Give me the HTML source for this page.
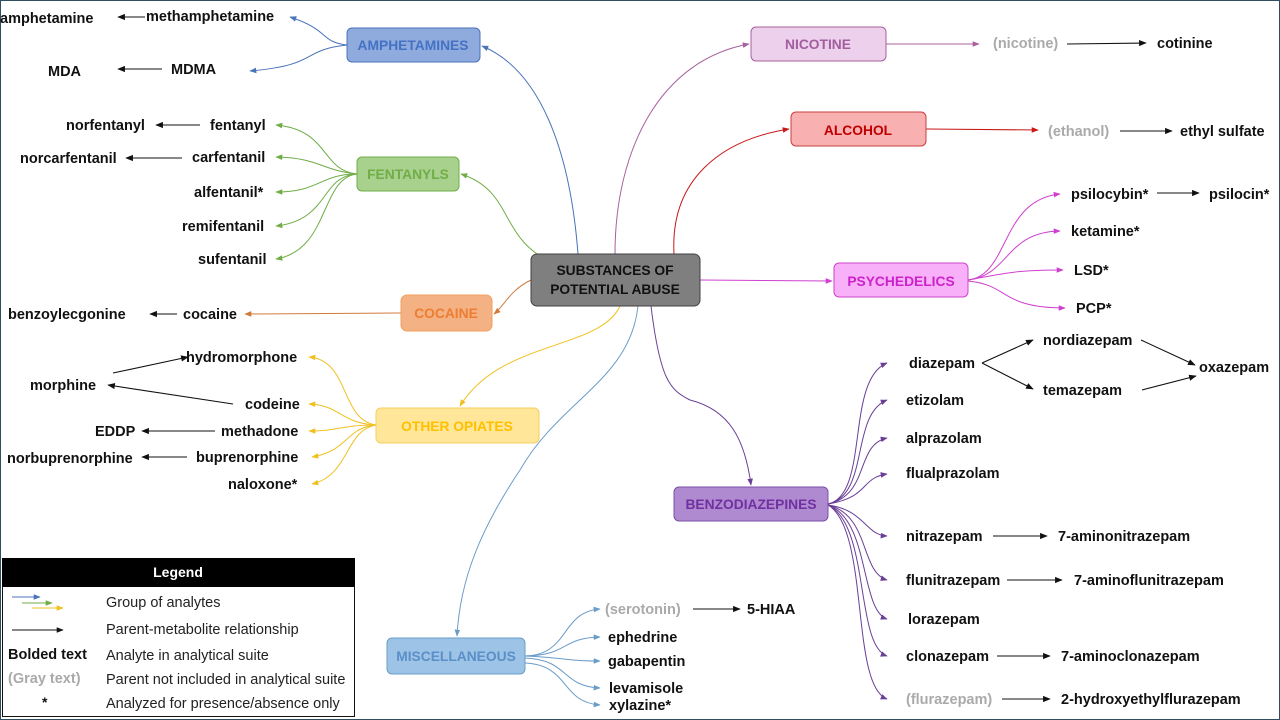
<!DOCTYPE html>
<html><head><meta charset="utf-8"><style>
body{margin:0;background:#fff;}
svg{display:block;font-family:"Liberation Sans",sans-serif;}
.b{font-weight:bold;font-size:14.5px;fill:#111;}
.g{font-size:14.5px;fill:#aaa;font-weight:bold;}
.bx{font-weight:bold;font-size:13.8px;text-anchor:middle;}
</style></head><body>
<svg width="1280" height="720" viewBox="0 0 1280 720">
<defs>
<marker id="k" viewBox="0 0 10 10" refX="9" refY="5" markerWidth="7" markerHeight="7" orient="auto"><path d="M0,1L10,5L0,9z" fill="#111"/></marker>
<marker id="bl" viewBox="0 0 10 10" refX="9" refY="5" markerWidth="7" markerHeight="7" orient="auto"><path d="M0,1L10,5L0,9z" fill="#4a73b8"/></marker>
<marker id="gr" viewBox="0 0 10 10" refX="9" refY="5" markerWidth="7" markerHeight="7" orient="auto"><path d="M0,1L10,5L0,9z" fill="#70ad47"/></marker>
<marker id="or" viewBox="0 0 10 10" refX="9" refY="5" markerWidth="7" markerHeight="7" orient="auto"><path d="M0,1L10,5L0,9z" fill="#d07a3a"/></marker>
<marker id="ye" viewBox="0 0 10 10" refX="9" refY="5" markerWidth="7" markerHeight="7" orient="auto"><path d="M0,1L10,5L0,9z" fill="#f0c020"/></marker>
<marker id="lb" viewBox="0 0 10 10" refX="9" refY="5" markerWidth="7" markerHeight="7" orient="auto"><path d="M0,1L10,5L0,9z" fill="#6a9cc8"/></marker>
<marker id="pk" viewBox="0 0 10 10" refX="9" refY="5" markerWidth="7" markerHeight="7" orient="auto"><path d="M0,1L10,5L0,9z" fill="#a8609e"/></marker>
<marker id="rd" viewBox="0 0 10 10" refX="9" refY="5" markerWidth="7" markerHeight="7" orient="auto"><path d="M0,1L10,5L0,9z" fill="#c81818"/></marker>
<marker id="mg" viewBox="0 0 10 10" refX="9" refY="5" markerWidth="7" markerHeight="7" orient="auto"><path d="M0,1L10,5L0,9z" fill="#d040d0"/></marker>
<marker id="pu" viewBox="0 0 10 10" refX="9" refY="5" markerWidth="7" markerHeight="7" orient="auto"><path d="M0,1L10,5L0,9z" fill="#6a3f96"/></marker>
</defs>
<rect x="0.5" y="0.5" width="1279" height="719" fill="none" stroke="#2f4f5f" stroke-width="1"/>

<g fill="none" stroke-width="1">
<path d="M578,254 C570,150 540,70 482,46" stroke="#4a73b8" marker-end="url(#bl)"/>
<path d="M540,256 C500,230 510,190 461,174" stroke="#70ad47" marker-end="url(#gr)"/>
<path d="M531,280 C510,290 505,305 494,314" stroke="#d07a3a" marker-end="url(#or)"/>
<path d="M620,306 C600,350 500,340 460,406" stroke="#f0c020" marker-end="url(#ye)"/>
<path d="M638,306 C630,380 560,400 520,470 C480,530 460,580 457,636" stroke="#6a9cc8" marker-end="url(#lb)"/>
<path d="M615,254 C615,150 660,60 749,44" stroke="#a8609e" marker-end="url(#pk)"/>
<path d="M674,254 C670,180 720,140 789,129" stroke="#c81818" marker-end="url(#rd)"/>
<path d="M700,280 L832,281" stroke="#d040d0" marker-end="url(#mg)"/>
<path d="M651,306 C660,380 670,390 690,400 C730,410 745,440 751,485" stroke="#6a3f96" marker-end="url(#pu)"/>

<path d="M347,45 C320,42 330,30 290,17" stroke="#4a73b8" marker-end="url(#bl)"/>
<path d="M347,45 C300,50 320,65 250,71" stroke="#4a73b8" marker-end="url(#bl)"/>
<path d="M357,174 C320,170 330,130 276,125" stroke="#70ad47" marker-end="url(#gr)"/>
<path d="M357,174 C320,170 320,158 276,157" stroke="#70ad47" marker-end="url(#gr)"/>
<path d="M357,174 C320,174 320,192 276,192" stroke="#70ad47" marker-end="url(#gr)"/>
<path d="M357,174 C320,176 330,220 276,226" stroke="#70ad47" marker-end="url(#gr)"/>
<path d="M357,174 C320,178 330,250 276,259" stroke="#70ad47" marker-end="url(#gr)"/>
<path d="M401,313 L245,314" stroke="#d07a3a" marker-end="url(#or)"/>
<path d="M376,425 C340,420 350,360 309,357" stroke="#f0c020" marker-end="url(#ye)"/>
<path d="M376,425 C340,423 340,405 309,404" stroke="#f0c020" marker-end="url(#ye)"/>
<path d="M376,425 C340,425 340,431 309,431" stroke="#f0c020" marker-end="url(#ye)"/>
<path d="M376,425 C345,428 350,450 312,457" stroke="#f0c020" marker-end="url(#ye)"/>
<path d="M376,425 C345,430 350,475 312,484" stroke="#f0c020" marker-end="url(#ye)"/>
<path d="M525,656 C570,655 560,612 600,609" stroke="#6a9cc8" marker-end="url(#lb)"/>
<path d="M525,656 C570,655 560,638 600,637" stroke="#6a9cc8" marker-end="url(#lb)"/>
<path d="M525,656 C570,658 565,661 600,661" stroke="#6a9cc8" marker-end="url(#lb)"/>
<path d="M525,658 C570,660 560,686 600,688" stroke="#6a9cc8" marker-end="url(#lb)"/>
<path d="M525,663 C570,665 560,702 600,705" stroke="#6a9cc8" marker-end="url(#lb)"/>
<path d="M886,44 L979,44" stroke="#a8609e" marker-end="url(#pk)"/>
<path d="M926,129 L1038,130" stroke="#c81818" marker-end="url(#rd)"/>
<path d="M968,280 C1010,275 1000,200 1060,194" stroke="#d040d0" marker-end="url(#mg)"/>
<path d="M968,280 C1010,275 1005,232 1060,231" stroke="#d040d0" marker-end="url(#mg)"/>
<path d="M968,280 C1010,272 1020,270 1063,270" stroke="#d040d0" marker-end="url(#mg)"/>
<path d="M968,281 C1010,285 1000,308 1065,308" stroke="#d040d0" marker-end="url(#mg)"/>
<g stroke="#6a3f96">
<path d="M828,504 C870,495 845,380 887,363" marker-end="url(#pu)"/>
<path d="M828,504 C870,495 850,415 887,400" marker-end="url(#pu)"/>
<path d="M828,504 C870,495 855,445 887,438" marker-end="url(#pu)"/>
<path d="M828,504 C870,497 860,478 887,474" marker-end="url(#pu)"/>
<path d="M828,505 C865,510 865,535 887,536" marker-end="url(#pu)"/>
<path d="M828,505 C870,515 860,572 887,580" marker-end="url(#pu)"/>
<path d="M828,505 C870,520 860,610 887,619" marker-end="url(#pu)"/>
<path d="M828,505 C870,525 855,645 887,656" marker-end="url(#pu)"/>
<path d="M828,505 C870,530 850,685 887,699" marker-end="url(#pu)"/>
</g>
</g>

<g stroke="#111" stroke-width="1.1" fill="none" marker-end="url(#k)">
<line x1="145" y1="17" x2="118" y2="17"/>
<line x1="162" y1="69" x2="118" y2="69"/>
<line x1="200" y1="125" x2="156" y2="125"/>
<line x1="182" y1="158" x2="126" y2="158"/>
<line x1="177" y1="314" x2="150" y2="314"/>
<line x1="113" y1="373" x2="188" y2="357"/>
<line x1="233" y1="404" x2="108" y2="385"/>
<line x1="215" y1="431" x2="142" y2="431"/>
<line x1="187" y1="457" x2="142" y2="457"/>
<line x1="1067" y1="44" x2="1146" y2="43"/>
<line x1="1120" y1="131" x2="1172" y2="131"/>
<line x1="1157" y1="193" x2="1199" y2="193"/>
<line x1="982" y1="363" x2="1033" y2="340"/>
<line x1="982" y1="363" x2="1033" y2="389"/>
<line x1="1141" y1="340" x2="1195" y2="365"/>
<line x1="1142" y1="390" x2="1196" y2="376"/>
<line x1="993" y1="536" x2="1047" y2="536"/>
<line x1="1007" y1="580" x2="1062" y2="580"/>
<line x1="997" y1="656" x2="1050" y2="656"/>
<line x1="1002" y1="699" x2="1050" y2="699"/>
<line x1="693" y1="609" x2="740" y2="609"/>
</g>

<rect x="531" y="254" width="169" height="52" rx="6" fill="#7f7f7f" stroke="#404040"/>
<text class="bx" x="615" y="275" fill="#111">SUBSTANCES OF</text>
<text class="bx" x="615" y="294" fill="#111">POTENTIAL ABUSE</text>
<rect x="347" y="28" width="133" height="34" rx="5" fill="#8faadc" stroke="#4a73b8"/>
<text class="bx" x="413" y="50" fill="#4472c4">AMPHETAMINES</text>
<rect x="357" y="157" width="102" height="34" rx="5" fill="#a9d18e" stroke="#70ad47"/>
<text class="bx" x="408" y="179" fill="#70ad47">FENTANYLS</text>
<rect x="401" y="295" width="91" height="36" rx="6" fill="#f4b183" stroke="#f0a060"/>
<text class="bx" x="446" y="318" fill="#ed7d31">COCAINE</text>
<rect x="376" y="408" width="163" height="35" rx="5" fill="#ffe699" stroke="#f4cf60"/>
<text class="bx" x="457" y="431" fill="#ffc000">OTHER OPIATES</text>
<rect x="387" y="638" width="138" height="36" rx="5" fill="#9dc3e6" stroke="#6a9cc8"/>
<text class="bx" x="456" y="661" fill="#5b8fc8">MISCELLANEOUS</text>
<rect x="751" y="27" width="135" height="34" rx="5" fill="#ecd0ec" stroke="#a8609e"/>
<text class="bx" x="818" y="49" fill="#a25e9e">NICOTINE</text>
<rect x="791" y="112" width="135" height="34" rx="5" fill="#f8b0b0" stroke="#c84040"/>
<text class="bx" x="858" y="135" fill="#c00000">ALCOHOL</text>
<rect x="834" y="263" width="134" height="34" rx="5" fill="#f8b0f8" stroke="#cc44cc"/>
<text class="bx" x="901" y="286" fill="#cc22cc">PSYCHEDELICS</text>
<rect x="674" y="487" width="154" height="34" rx="5" fill="#b08ad0" stroke="#7a50a8"/>
<text class="bx" x="751" y="509" fill="#7030a0">BENZODIAZEPINES</text>

<g class="b">
<text x="0" y="23">amphetamine</text>
<text x="146" y="21">methamphetamine</text>
<text x="48" y="76">MDA</text>
<text x="171" y="74">MDMA</text>
<text x="66" y="130">norfentanyl</text>
<text x="210" y="130">fentanyl</text>
<text x="20" y="163">norcarfentanil</text>
<text x="192" y="162">carfentanil</text>
<text x="194" y="197">alfentanil*</text>
<text x="182" y="231">remifentanil</text>
<text x="198" y="264">sufentanil</text>
<text x="8" y="319">benzoylecgonine</text>
<text x="183" y="319">cocaine</text>
<text x="186" y="362">hydromorphone</text>
<text x="30" y="390">morphine</text>
<text x="245" y="409">codeine</text>
<text x="95" y="436">EDDP</text>
<text x="221" y="436">methadone</text>
<text x="7" y="463">norbuprenorphine</text>
<text x="196" y="462">buprenorphine</text>
<text x="228" y="489">naloxone*</text>
<text x="1157" y="48">cotinine</text>
<text x="1180" y="136">ethyl sulfate</text>
<text x="1071" y="199">psilocybin*</text>
<text x="1209" y="199">psilocin*</text>
<text x="1071" y="236">ketamine*</text>
<text x="1074" y="275">LSD*</text>
<text x="1076" y="313">PCP*</text>
<text x="909" y="368">diazepam</text>
<text x="1043" y="345">nordiazepam</text>
<text x="1043" y="395">temazepam</text>
<text x="1199" y="372">oxazepam</text>
<text x="906" y="405">etizolam</text>
<text x="906" y="443">alprazolam</text>
<text x="906" y="478">flualprazolam</text>
<text x="906" y="541">nitrazepam</text>
<text x="1058" y="541">7-aminonitrazepam</text>
<text x="906" y="585">flunitrazepam</text>
<text x="1074" y="585">7-aminoflunitrazepam</text>
<text x="908" y="624">lorazepam</text>
<text x="906" y="661">clonazepam</text>
<text x="1061" y="661">7-aminoclonazepam</text>
<text x="1061" y="704">2-hydroxyethylflurazepam</text>
<text x="747" y="614">5-HIAA</text>
<text x="608" y="642">ephedrine</text>
<text x="608" y="666">gabapentin</text>
<text x="609" y="693">levamisole</text>
<text x="609" y="710">xylazine*</text>
</g>
<g class="g">
<text x="993" y="48">(nicotine)</text>
<text x="1048" y="136">(ethanol)</text>
<text x="906" y="704">(flurazepam)</text>
<text x="605" y="614">(serotonin)</text>
</g>

<rect x="2.5" y="558.5" width="352" height="158" fill="#fff" stroke="#111"/>
<rect x="2" y="558" width="353" height="29" fill="#000"/>
<text x="178" y="577" text-anchor="middle" font-size="14" font-weight="bold" fill="#fff">Legend</text>
<g fill="none" stroke-width="1">
<line x1="12" y1="597" x2="40" y2="597" stroke="#4a73b8" marker-end="url(#bl)"/>
<line x1="22" y1="603" x2="52" y2="603" stroke="#70ad47" marker-end="url(#gr)"/>
<line x1="32" y1="608" x2="63" y2="608" stroke="#f0c020" marker-end="url(#ye)"/>
<line x1="12" y1="630" x2="63" y2="630" stroke="#111" marker-end="url(#k)"/>
</g>
<g font-size="14.5" fill="#222">
<text x="106" y="607">Group of analytes</text>
<text x="106" y="634">Parent-metabolite relationship</text>
<text x="106" y="660">Analyte in analytical suite</text>
<text x="106" y="684">Parent not included in analytical suite</text>
<text x="106" y="708">Analyzed for presence/absence only</text>
</g>
<text x="8" y="659" class="b">Bolded text</text>
<text x="8" y="683" class="g">(Gray text)</text>
<text x="42" y="707" font-size="14" font-weight="bold" fill="#111">*</text>
</svg>
</body></html>
